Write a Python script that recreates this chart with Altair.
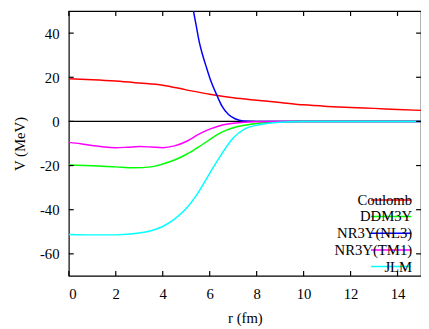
import altair as alt
import pandas as pd

series = ["Coulomb", "DDM3Y", "NR3Y(NL3)", "NR3Y(TM1)", "JLM"]
colors = ["#ff0000", "#00ff00", "#0000ff", "#ff00ff", "#00ffff"]

coulomb_r = [0, 1, 2, 3, 4, 5, 6, 7, 8, 9, 10, 11, 12, 13, 14, 15]
coulomb_v = [19.3, 18.9, 18.3, 17.4, 16.4, 14.3, 12.3, 10.7, 9.6, 8.6, 7.5, 6.8, 6.3, 5.9, 5.4, 5.0]

ddm3y_r = [0, 1, 2, 2.75, 3.5, 4, 4.5, 5, 5.5, 6, 6.5, 7, 7.5, 8, 8.5, 9, 10, 11, 15]
ddm3y_v = [-19.7, -20.1, -20.6, -21.0, -20.6, -19.3, -17.5, -15.0, -11.8, -8.2, -5.0, -2.9, -1.7, -0.9, -0.5, -0.2, -0.05, 0, 0]

nl3_r = [4.9, 5.1, 5.31, 5.42, 5.55, 5.69, 5.86, 6.04, 6.32, 6.53, 6.8, 7.08, 7.43, 8, 9, 15]
nl3_v = [76, 62, 50, 43.7, 36.3, 30.4, 24.5, 18.6, 11.5, 6.8, 3.1, 1.2, 0.2, 0.02, 0, 0]

tm1_r = [0, 0.5, 1, 1.5, 2, 2.5, 3, 3.5, 4, 4.5, 5, 5.5, 6, 6.5, 7, 7.5, 8, 9, 15]
tm1_v = [-9.5, -10.1, -10.9, -11.6, -11.9, -11.7, -11.4, -11.6, -11.9, -11.1, -9.1, -6.0, -3.5, -1.7, -0.8, -0.35, -0.15, 0, 0]

jlm_r = [0, 1, 2, 3, 3.5, 4, 4.5, 5, 5.5, 6, 6.5, 7, 7.5, 8, 8.5, 9, 10, 11, 15]
jlm_v = [-51.2, -51.4, -51.4, -50.6, -49.5, -47.6, -44.3, -39.5, -32.4, -23.5, -14.9, -7.5, -3.4, -1.7, -0.8, -0.35, -0.05, 0, 0]

x_ticks = [0, 2, 4, 6, 8, 10, 12, 14]
y_ticks = [-60, -40, -20, 0, 20, 40]
x_range = [0, 15]
y_range = [-70, 50]

rows = []
for name, rs, vs in zip(series,
                        [coulomb_r, ddm3y_r, nl3_r, tm1_r, jlm_r],
                        [coulomb_v, ddm3y_v, nl3_v, tm1_v, jlm_v]):
    for i, (r, v) in enumerate(zip(rs, vs)):
        rows.append({"series": name, "r": r, "V": v, "i": i})
df = pd.DataFrame(rows)

# inward tick marks on the frame: length expressed as a fraction of each axis span
W, H = 359, 270
TICK_PX = 5
dx = (x_range[1] - x_range[0]) * TICK_PX / W
dy = (y_range[1] - y_range[0]) * TICK_PX / H
bottom_df = pd.DataFrame({"r": x_ticks, "a": y_range[0], "b": y_range[0] + dy})
top_df = pd.DataFrame({"r": x_ticks, "a": y_range[1], "b": y_range[1] - dy})
left_df = pd.DataFrame({"V": y_ticks, "a": x_range[0], "b": x_range[0] + dx})
right_df = pd.DataFrame({"V": y_ticks, "a": x_range[1], "b": x_range[1] - dx})

FONT = "Liberation Serif, Times New Roman, serif"
LBL = "'' + datum.value"
xscale = alt.Scale(domain=x_range, nice=False, zero=False)
yscale = alt.Scale(domain=y_range, nice=False, zero=False)

xaxis = alt.Axis(values=x_ticks, title="r (fm)", labelPadding=11, titlePadding=9, labelExpr=LBL)
yaxis = alt.Axis(values=y_ticks, title="V (MeV)", labelPadding=10, titlePadding=12, labelExpr=LBL)

X = lambda f: alt.X(f, scale=xscale, axis=xaxis)
Y = lambda f: alt.Y(f, scale=yscale, axis=yaxis)

zero = alt.Chart(pd.DataFrame({"V": [0]})).mark_rule(color="black", strokeWidth=1.3).encode(
    y=Y("V:Q"),
)

rule_style = dict(color="black", strokeWidth=1.2)
bottom_ticks = alt.Chart(bottom_df).mark_rule(**rule_style).encode(
    x=X("r:Q"), y=Y("a:Q"), y2="b:Q")
top_ticks = alt.Chart(top_df).mark_rule(**rule_style).encode(
    x=X("r:Q"), y=Y("a:Q"), y2="b:Q")
left_ticks = alt.Chart(left_df).mark_rule(**rule_style).encode(
    y=Y("V:Q"), x=X("a:Q"), x2="b:Q")
right_ticks = alt.Chart(right_df).mark_rule(**rule_style).encode(
    y=Y("V:Q"), x=X("a:Q"), x2="b:Q")

PAD = "\u00a0" * 13
lines = alt.Chart(df).mark_line(clip=True, strokeWidth=1.5, interpolate="monotone").encode(
    x=X("r:Q"),
    y=Y("V:Q"),
    color=alt.Color("series:N", sort=series,
                    scale=alt.Scale(domain=series, range=colors),
                    legend=alt.Legend(title=None, orient="none", legendX=307, legendY=185,
                                      symbolType="stroke", symbolSize=1681, symbolStrokeWidth=1.5,
                                      clipHeight=15, labelAlign="right", labelOffset=0,
                                      labelLimit=300,
                                      labelExpr="datum.label + '" + PAD + "'")),
    order="i:Q",
    detail="series:N",
)

chart = alt.layer(zero, lines, bottom_ticks, top_ticks, left_ticks, right_ticks).properties(
    width=W, height=H,
    autosize=alt.AutoSizeParams(type="none"),
    padding={"left": 62, "top": 0, "right": 0, "bottom": 51},
).configure_view(stroke="black", strokeWidth=1.2).configure_axis(
    ticks=False, tickSize=0, domain=False, grid=False,
    labelFont=FONT, labelFontSize=15, labelColor="black",
    titleFont=FONT, titleFontSize=15, titleFontWeight="normal", titleColor="black",
).configure_legend(
    labelFont=FONT, labelFontSize=15, labelColor="black", rowPadding=1, padding=0,
)

chart.save("out.html", embed_options={"renderer": "svg", "actions": False})
